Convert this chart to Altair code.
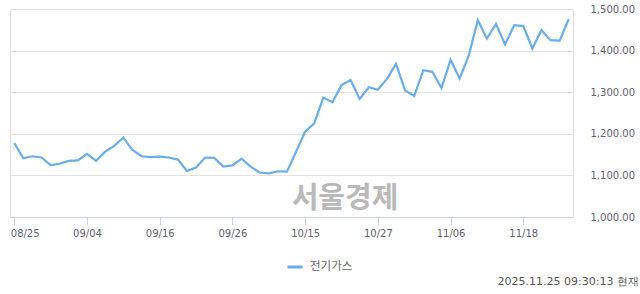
import altair as alt
import pandas as pd

dates = [
    "08/25", "08/26", "08/27", "08/28", "08/29",
    "09/01", "09/02", "09/03", "09/04", "09/05",
    "09/08", "09/09", "09/10", "09/11", "09/12",
    "09/15", "09/16", "09/17", "09/18", "09/19",
    "09/22", "09/23", "09/24", "09/25", "09/26",
    "09/29", "09/30", "10/01", "10/02", "10/10",
    "10/13", "10/14", "10/15", "10/16", "10/17",
    "10/20", "10/21", "10/22", "10/23", "10/24",
    "10/27", "10/28", "10/29", "10/30", "10/31",
    "11/03", "11/04", "11/05", "11/06", "11/07",
    "11/10", "11/11", "11/12", "11/13", "11/14",
    "11/17", "11/18", "11/19", "11/20", "11/21",
    "11/24", "11/25",
]
values = [
    1178, 1141, 1146, 1143, 1125, 1128, 1135, 1136, 1152, 1135,
    1157, 1171, 1191, 1161, 1146, 1144, 1145, 1143, 1138, 1111,
    1119, 1143, 1142, 1121, 1124, 1140, 1121, 1107, 1105, 1110,
    1109, 1157, 1205, 1225, 1287, 1276, 1317, 1329, 1284, 1312,
    1306, 1332, 1368, 1304, 1291, 1353, 1349, 1310, 1378, 1333,
    1388, 1473, 1429, 1464, 1415, 1461, 1459, 1405, 1449, 1425,
    1424, 1476,
]
tick_labels = ["08/25", "09/04", "09/16", "09/26", "10/15", "10/27", "11/06", "11/18"]
y_ticks = [1000, 1100, 1200, 1300, 1400, 1500]
series_name = "전기가스"
watermark = "서울경제"
timestamp = "2025.11.25 09:30:13 현재"

df = pd.DataFrame({"date": dates, "value": values, "series": [series_name] * len(dates)})

LINE = "#6aaee9"
LABEL = "#5f5f6f"

line = alt.Chart(df).mark_line(strokeWidth=2.2, color=LINE).encode(
    x=alt.X(
        "date:O",
        sort=dates,
        scale=alt.Scale(type="point", padding=0.47),
        axis=alt.Axis(
            values=tick_labels,
            title=None,
            labelAngle=0,
            grid=False,
            domainColor="#c8d2e3",
            tickColor="#c8d2e3",
            tickSize=8,
            labelPadding=3,
            labelFont="DejaVu Sans",
            labelFontSize=10,
            labelColor=LABEL,
            labelFlush=6,
            labelFlushOffset=4,
        ),
    ),
    y=alt.Y(
        "value:Q",
        scale=alt.Scale(domain=[1000, 1500], nice=False, zero=False),
        axis=alt.Axis(
            orient="right",
            values=y_ticks,
            format=",.2f",
            title=None,
            domain=False,
            ticks=False,
            labelPadding=17,
            labelAlign="left",
            labelBaseline="middle",
            labelFont="DejaVu Sans",
            labelFontSize=10,
            labelColor=LABEL,
            gridColor="#e3e3e3",
            gridWidth=1,
        ),
    ),
    stroke=alt.Stroke(
        "series:N",
        scale=alt.Scale(domain=[series_name], range=[LINE]),
        legend=alt.Legend(
            title=None,
            orient="none",
            legendX=276,
            legendY=249,
            symbolType="stroke",
            symbolSize=225,
            symbolStrokeWidth=3,
            labelOffset=6,
            labelFont="Noto Sans CJK KR",
            labelFontSize=11.5,
            labelColor="#666666",
            padding=0,
        ),
    ),
)

wm = alt.Chart(pd.DataFrame({"t": [watermark]})).mark_text(
    font="Noto Sans CJK KR",
    fontSize=29,
    fontWeight="bold",
    color="#b9b9b9",
    align="center",
    baseline="middle",
).encode(text="t:N", x=alt.value(335), y=alt.value(190))

ts = alt.Chart(pd.DataFrame({"t": [timestamp]})).mark_text(
    font="DejaVu Sans",
    fontSize=11,
    color="#555555",
    align="right",
    baseline="middle",
).encode(text="t:N", x=alt.value(629), y=alt.value(273))

chart = alt.layer(wm, line, ts).properties(
    width=563,
    height=208,
    padding={"left": 10, "top": 9, "right": 67, "bottom": 77},
    autosize=alt.AutoSizeParams(type="none"),
).configure_view(stroke=None).configure(background="white")

chart.save("out.html", embed_options={"renderer": "svg", "actions": False})
